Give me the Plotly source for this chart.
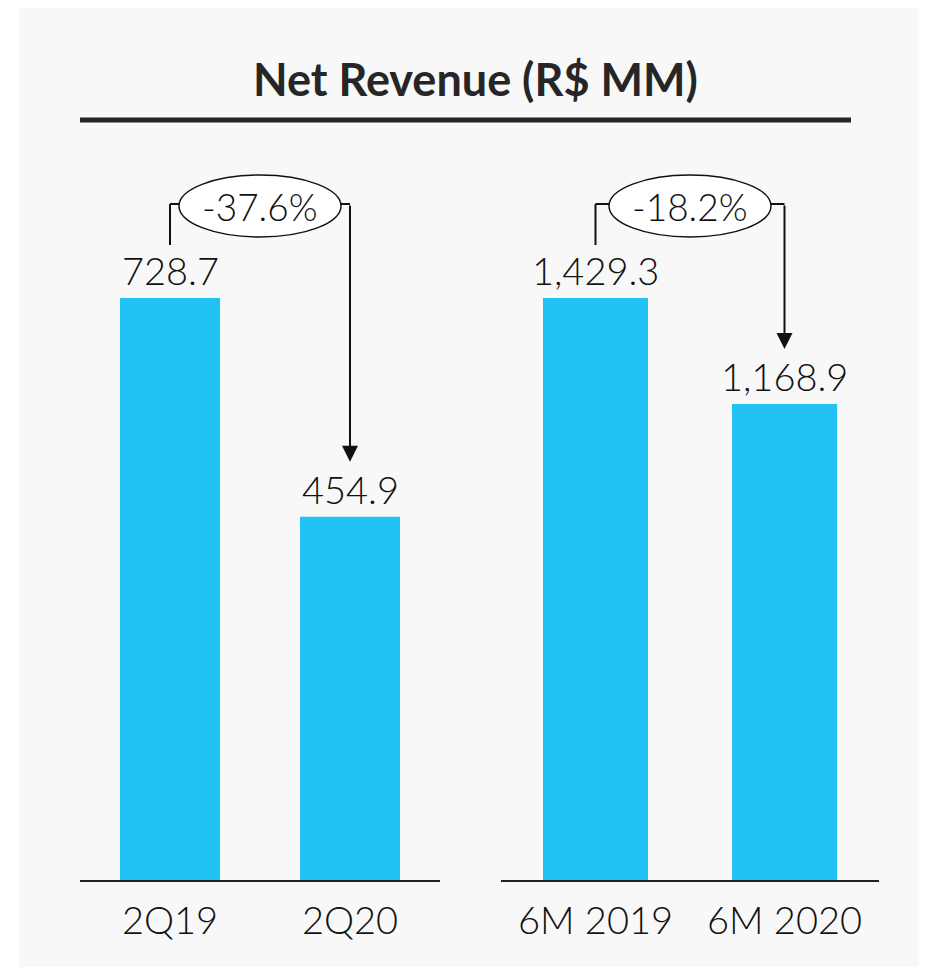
import plotly.graph_objects as go

# ---- data ----
quarter_labels = ["2Q19", "2Q20"]
quarter_values = [728.7, 454.9]
semester_labels = ["6M 2019", "6M 2020"]
semester_values = [1429.3, 1168.9]
title_text = "Net Revenue (R$ MM)"

# ---- style ----
W, H = 919, 959
OFF = 8  # page body margin
BAR = "#21C3F4"
INK = "#111111"
FONT = "Lato"
PLOT_BOTTOM_PX = 880
PLOT_TOP_PX = 140
PLOT_H = PLOT_BOTTOM_PX - PLOT_TOP_PX
MAX_BAR_PX = 582  # height of the tallest bar in each panel


def py(p):
    return (H - (p - OFF)) / H


def px(p):
    return (p - OFF) / W


fig = go.Figure()

panels = [
    ("x", "y", quarter_labels, quarter_values, [80, 440]),
    ("x2", "y2", semester_labels, semester_values, [501, 879]),
]

annotations = []
shapes = []

# background panel
shapes.append(dict(type="rect", xref="paper", yref="paper",
                   x0=px(19), x1=1, y0=0, y1=1,
                   fillcolor="#F8F8F8", line=dict(width=0), layer="below"))
# title underline
shapes.append(dict(type="line", xref="paper", yref="paper",
                   x0=px(80), x1=px(851), y0=py(120), y1=py(120),
                   line=dict(color="#262626", width=5)))
annotations.append(dict(xref="paper", yref="paper", x=px(475), y=py(79),
                        text="<b>" + title_text + "</b>", showarrow=False,
                        xanchor="center", yanchor="middle",
                        font=dict(family=FONT, size=45, color="#262626")))

for i, (xa, ya, labels, values, dom) in enumerate(panels):
    vmax = max(values)
    ymax = vmax * PLOT_H / MAX_BAR_PX
    unit = ymax / PLOT_H  # data units per pixel

    fig.add_trace(go.Bar(x=labels, y=values, xaxis=xa, yaxis=ya,
                         marker=dict(color=BAR, line=dict(width=0)),
                         hoverinfo="skip", showlegend=False))

    xkey = "xaxis" if i == 0 else "xaxis2"
    ykey = "yaxis" if i == 0 else "yaxis2"
    fig.update_layout(**{
        xkey: dict(domain=[px(dom[0]), px(dom[1])], anchor=ya,
                   showline=True, linecolor="#222222", linewidth=2,
                   showgrid=False, zeroline=False, ticks="",
                   ticklabelstandoff=6, fixedrange=True,
                   tickfont=dict(family=FONT, size=38, color=INK, weight=300)),
        ykey: dict(domain=[py(PLOT_BOTTOM_PX), py(PLOT_TOP_PX)], anchor=xa,
                   range=[0, ymax], visible=False, fixedrange=True),
    })

    # value labels
    for lab, v in zip(labels, values):
        annotations.append(dict(xref=xa, yref=ya, x=lab, y=v, yshift=3,
                                text=f"{v:,.1f}", showarrow=False,
                                xanchor="center", yanchor="bottom",
                                font=dict(family=FONT, size=38, color=INK,
                                          weight=300)))

    v1, v2 = values
    bracket_y = vmax + 94 * unit
    # left vertical
    shapes.append(dict(type="line", xref=xa, yref=ya, x0=0, x1=0,
                       y0=v1 + 53 * unit, y1=bracket_y,
                       line=dict(color=INK, width=2)))
    # horizontal bracket
    shapes.append(dict(type="line", xref=xa, yref=ya, x0=0, x1=1,
                       y0=bracket_y, y1=bracket_y,
                       line=dict(color=INK, width=2)))
    # ellipse
    shapes.append(dict(type="circle", xref=xa, yref=ya,
                       xsizemode="pixel", xanchor=0.5, x0=-81, x1=81,
                       ysizemode="pixel", yanchor=vmax, y0=61, y1=123,
                       fillcolor="white", line=dict(color=INK, width=1.5)))
    # arrow down to second bar
    annotations.append(dict(xref=xa, yref=ya, x=1, y=v2 + 55 * unit,
                            axref=xa, ayref=ya, ax=1, ay=bracket_y,
                            text="", showarrow=True, arrowhead=2,
                            arrowsize=1.6, arrowwidth=2, arrowcolor=INK,
                            standoff=0, startstandoff=0))
    # percent change
    pct = (v2 / v1 - 1) * 100
    annotations.append(dict(xref=xa, yref=ya, x=0.5, y=vmax, yshift=92,
                            text=f"{pct:.1f}%", showarrow=False,
                            xanchor="center", yanchor="middle",
                            font=dict(family=FONT, size=37, color=INK,
                                      weight=300)))

fig.update_layout(width=W, height=H, margin=dict(l=0, r=0, t=0, b=0),
                  paper_bgcolor="white", plot_bgcolor="rgba(0,0,0,0)",
                  bargap=0.444, shapes=shapes, annotations=annotations)

fig.write_html("out.html")
